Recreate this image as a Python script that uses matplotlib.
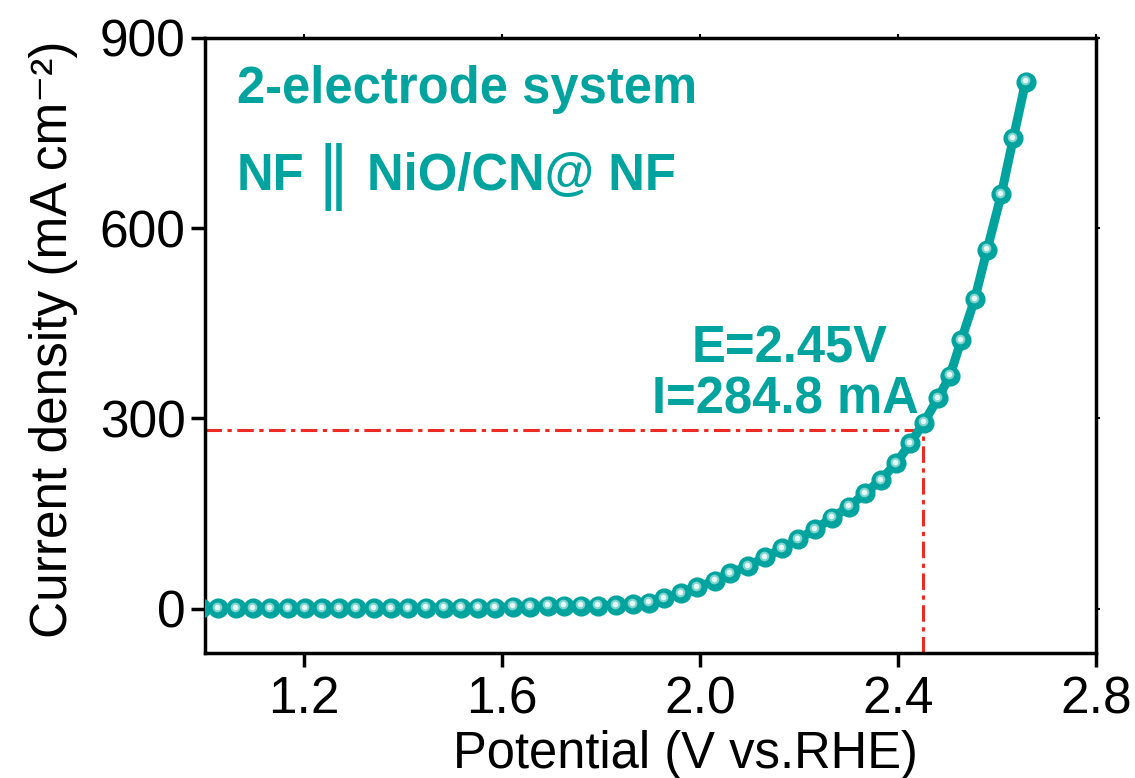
import matplotlib
matplotlib.use("Agg")
import matplotlib.pyplot as plt
from matplotlib.transforms import offset_copy

# LSV curve of the 2-electrode cell
potential = [0.992, 1.027, 1.063, 1.098, 1.132, 1.167, 1.202, 1.236, 1.271, 1.306,
             1.341, 1.376, 1.411, 1.447, 1.482, 1.517, 1.551, 1.586, 1.622, 1.657,
             1.693, 1.726, 1.760, 1.795, 1.831, 1.864, 1.898, 1.928, 1.962, 1.994,
             2.030, 2.061, 2.097, 2.131, 2.166, 2.198, 2.232, 2.267, 2.301, 2.333,
             2.365, 2.396, 2.425, 2.452, 2.481, 2.505, 2.528, 2.555, 2.580, 2.609,
             2.633, 2.658]
current = [0.3, 0.3, 0.3, 0.3, 0.3, 0.3, 0.3, 0.3, 0.3, 0.3,
           0.3, 0.3, 0.3, 1.3, 1.3, 1.3, 1.3, 1.3, 2.8, 2.8,
           4.4, 4.4, 4.4, 4.4, 5.5, 6.6, 9.1, 16.1, 24.0, 33.4,
           43.9, 55.5, 67.0, 80.8, 95.0, 109.2, 124.9, 143.2, 160.6, 181.7,
           202.7, 229.1, 260.6, 293.1, 331.6, 367.3, 423.6, 487.8, 565.6, 653.9,
           741.8, 831.1]

mark_E = 2.45
mark_I = 281

x_ticks = [1.2, 1.6, 2.0, 2.4, 2.8]
y_ticks = [0, 300, 600, 900]

teal = "#00a39d"
red = "#ee2a24"

plt.rcParams['font.family'] = ['Liberation Sans', 'DejaVu Sans']

fig = plt.figure(figsize=(11.35, 7.78), dpi=100)
ax = fig.add_subplot(1, 1, 1)
fig.subplots_adjust(left=0.1806, right=0.9656, bottom=0.1607, top=0.9512)

# guide lines at the marked operating point
dashdot = (0, (5.4, 1.8, 1.4, 1.8))
ax.plot([1.0, mark_E], [mark_I, mark_I], color=red, lw=2.2, linestyle=dashdot, zorder=1)
ax.plot([mark_E, mark_E], [-70, mark_I], color=red, lw=2.2, linestyle=dashdot, zorder=1)

# curve + "ball" markers
ax.plot(potential, current, color=teal, lw=6.5, marker='o', ms=13.5,
        mfc=teal, mec=teal, zorder=3)
shine = offset_copy(ax.transData, fig=fig, x=-1.0, y=1.5, units='dots')
ax.plot(potential, current, ls='none', marker='o', ms=7, mfc='#7fd4cf',
        mec='none', transform=shine, zorder=4)
ax.plot(potential, current, ls='none', marker='o', ms=4, mfc='#e6f8f7',
        mec='none', transform=shine, zorder=5)

ax.set_xlim(1.0, 2.8)
ax.set_ylim(-70, 900)
ax.set_xticks(x_ticks)
ax.set_xticklabels(["%.1f" % t for t in x_ticks])
ax.set_yticks(y_ticks)

for side in ['left', 'bottom', 'top', 'right']:
    ax.spines[side].set_linewidth(2.5)
ax.tick_params(axis='both', which='major', direction='out', length=10, width=2.5,
               labelsize=37, top=True, right=True)
ax.tick_params(axis='x', pad=6)
ax.tick_params(axis='y', pad=4)
for t in ax.xaxis.get_ticklines()[1::2] + ax.yaxis.get_ticklines()[1::2]:
    t.set_markersize(3)
    t.set_markeredgewidth(1.5)

ax.set_xlabel("Potential (V vs.RHE)", fontsize=36.5)
ax.xaxis.set_label_coords(0.539, -0.125)
ax.set_ylabel("Current density (mA cm\u207b\u00b2)", fontsize=37)
ax.yaxis.set_label_coords(-0.142, 0.51)

ax.text(0.036, 0.894, "2-electrode system", transform=ax.transAxes, color=teal,
        fontsize=36.5, fontweight='bold', va='baseline', ha='left')
ax.text(0.036, 0.753, "NF", transform=ax.transAxes, color=teal,
        fontsize=36.5, fontweight='bold', va='baseline', ha='left')
ax.text(0.1437, 0.745, "\u2016", transform=ax.transAxes, color=teal,
        fontsize=48, family='DejaVu Sans', va='baseline', ha='center')
ax.text(0.182, 0.753, "NiO/CN@ NF", transform=ax.transAxes, color=teal,
        fontsize=36.5, fontweight='bold', va='baseline', ha='left')
ax.text(0.656, 0.473, "E=2.45V", transform=ax.transAxes, color=teal,
        fontsize=36.5, fontweight='bold', va='baseline', ha='center')
ax.text(0.651, 0.390, "I=284.8 mA", transform=ax.transAxes, color=teal,
        fontsize=36.5, fontweight='bold', va='baseline', ha='center')

fig.savefig("out.png", dpi=100)
